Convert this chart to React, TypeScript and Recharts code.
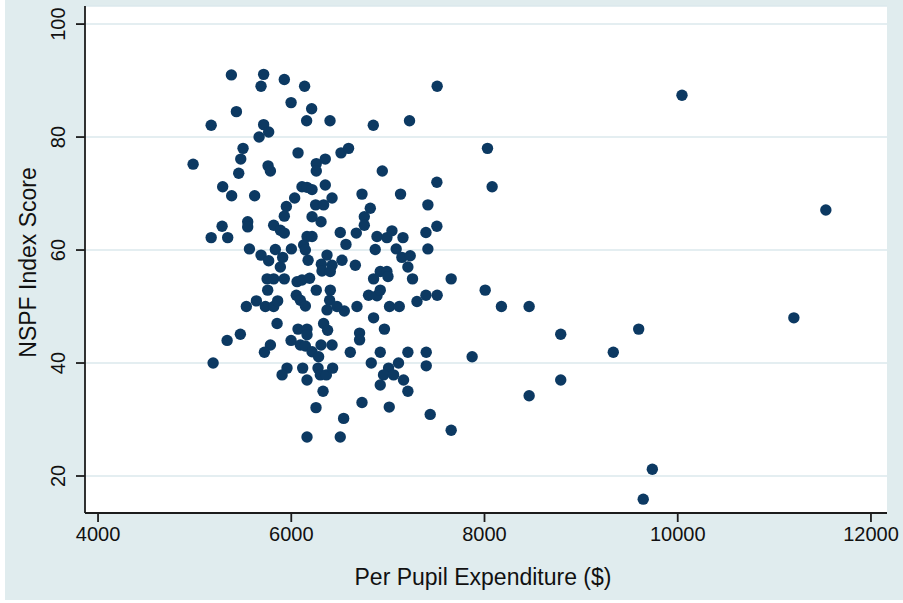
import React from 'react';
import { ScatterChart, Scatter, XAxis, YAxis, CartesianGrid } from 'recharts';

// per pupil expenditure ($) and NSPF index score, one entry per school
const expenditure = [
  5380, 5714, 5687, 5928, 6138, 5998, 5432, 6211, 6159, 6401, 5171, 5714, 5766, 5667, 6849, 7510, 7224,
  5501, 5477, 5456, 4984, 5760, 5784, 6070, 6259, 6352, 6259, 6515, 6593, 5290, 5383, 5621, 6111, 6163,
  6215, 6352, 6035, 5949, 6422, 6252, 6335, 6732, 6818, 8031, 6942, 7507, 8079, 7131, 7414,
  5928, 6215, 6308, 6756, 5284, 5549, 5549, 5818, 5887, 5928, 5171, 5342, 5567, 5687, 5766, 5835, 5911,
  5887, 6001, 6163, 6215, 6128, 6146, 6174, 6507, 6566, 6673, 6756, 7507, 7394, 6887, 6990, 7042, 7156,
  6869, 7086, 7145, 7231, 7207, 7414, 6525, 6663, 6852, 6921, 6990, 7001, 7255, 7655, 8007, 6800, 6887,
  6921, 7301, 7394, 7510, 8175, 8462, 6549, 6680, 7017, 7118, 6852, 6964, 6707, 6707, 6311, 6370, 6422,
  6318, 6404, 5750, 5818, 5928, 5756, 6060, 6111, 6190, 6259, 6404, 6052, 6094, 6146, 5535, 5639, 5732,
  5818, 5859, 6397, 6370, 6473,
  5853, 6070, 6163, 6163, 6335, 6376, 5336, 5473, 5784, 5722, 5998, 6094, 6146, 6215, 6283, 6308, 6422,
  6611, 6921, 7207, 7397, 7872, 6828, 7007, 6955, 7059, 7110, 7162, 7397, 6921, 7207, 6732, 7014, 7438,
  7655, 8462, 6542, 6507, 5191, 5956, 5905, 6118, 6277, 6301, 6363, 6428, 6163, 6329, 6256, 6163,
  10044, 11533, 8789, 9596, 9333, 11202, 8789, 9737, 9643,
];

const nspfScore = [
  91.0, 91.1, 89.0, 90.2, 89.0, 86.1, 84.5, 85.0, 82.9, 82.9, 82.1, 82.2, 80.9, 80.0, 82.1, 89.0, 82.9,
  78.0, 76.1, 73.6, 75.2, 74.9, 74.0, 77.2, 75.3, 76.1, 74.0, 77.2, 78.0, 71.2, 69.6, 69.6, 71.2, 71.1,
  70.7, 71.5, 69.2, 67.7, 69.2, 68.0, 68.0, 69.9, 67.4, 78.0, 74.0, 72.0, 71.2, 69.9, 68.0,
  66.0, 65.9, 65.0, 65.9, 64.2, 65.0, 64.1, 64.4, 63.5, 63.0, 62.2, 62.2, 60.2, 59.1, 58.1, 60.1, 58.7,
  57.0, 60.2, 62.4, 62.4, 60.9, 60.0, 58.2, 63.1, 61.0, 63.0, 64.4, 64.2, 63.1, 62.4, 62.2, 63.4, 62.2,
  60.1, 60.2, 58.7, 59.0, 57.0, 60.2, 58.2, 57.3, 54.9, 56.2, 56.2, 55.3, 54.9, 54.9, 52.9, 52.0, 51.9,
  52.9, 50.9, 52.0, 52.0, 50.0, 50.0, 49.2, 50.0, 50.0, 50.0, 48.0, 46.0, 45.3, 44.1, 57.5, 59.1, 57.3,
  56.3, 56.2, 54.9, 54.9, 54.9, 52.9, 54.4, 54.7, 55.0, 52.9, 52.9, 52.0, 51.1, 50.1, 50.0, 51.0, 50.0,
  50.0, 51.0, 51.1, 49.4, 50.0,
  47.0, 46.0, 46.0, 45.0, 47.0, 45.8, 44.0, 45.1, 43.2, 41.9, 44.0, 43.2, 43.0, 42.0, 41.1, 43.2, 43.2,
  41.9, 41.9, 41.9, 41.9, 41.1, 40.0, 39.1, 37.9, 37.9, 40.0, 37.0, 39.5, 36.1, 35.0, 33.0, 32.2, 30.9,
  28.1, 34.2, 30.2, 26.9, 40.0, 39.1, 37.9, 39.1, 39.1, 37.9, 37.9, 39.1, 37.0, 35.0, 32.1, 26.9,
  87.4, 67.1, 45.1, 46.0, 41.9, 48.0, 37.0, 21.2, 15.9,
];

const xTicks = [4000, 6000, 8000, 10000, 12000];
const yTicks = [20, 40, 60, 80, 100];

const data = expenditure.map((x, i) => ({ x, y: nspfScore[i] }));

const FONT = "Helvetica, 'Liberation Sans', Arial, sans-serif";
const NAVY = '#0c3962';

const XTick = (props: any) => (
  <text x={props.x} y={props.y} dy={17} textAnchor="middle" fontSize={20} fontFamily={FONT} fill="#111">
    {props.payload.value}
  </text>
);

const YTick = (props: any) => {
  const x = props.x - 9;
  return (
    <text
      x={x}
      y={props.y}
      textAnchor="middle"
      fontSize={20}
      fontFamily={FONT}
      fill="#111"
      transform={`rotate(-90 ${x} ${props.y})`}
    >
      {props.payload.value}
    </text>
  );
};

const YTitle = (props: any) => {
  const cx = 36;
  const cy = props.viewBox.y + props.viewBox.height / 2 + 3;
  return (
    <text x={cx} y={cy} textAnchor="middle" fontSize={23} fontFamily={FONT} fill="#111" transform={`rotate(-90 ${cx} ${cy})`}>
      NSPF Index Score
    </text>
  );
};

const XTitle = (props: any) => {
  const cx = props.viewBox.x + props.viewBox.width / 2 - 3;
  return (
    <text x={cx} y={585} textAnchor="middle" fontSize={23} fontFamily={FONT} fill="#111">
      Per Pupil Expenditure ($)
    </text>
  );
};

export default function App() {
  return (
    <div style={{ position: 'absolute', left: 0, top: 0, width: 903, height: 603, background: '#fff' }}>
      <div style={{ position: 'absolute', left: 5, top: 0, width: 898, height: 600, background: '#e0ecee' }} />
      <div style={{ position: 'absolute', left: 0, top: 0 }}>
        <ScatterChart width={903} height={603} margin={{ top: 6, right: 16, left: 0, bottom: 0 }}>
          <CartesianGrid vertical={false} stroke="#dbe9ec" strokeWidth={1.5} fill="#ffffff" fillOpacity={1} />
          <XAxis
            type="number"
            dataKey="x"
            domain={[3865, 12166]}
            ticks={xTicks}
            allowDataOverflow
            height={90}
            tickSize={9}
            tickMargin={2}
            tick={<XTick />}
            axisLine={{ stroke: '#1c1c1c', strokeWidth: 1.8 }}
            tickLine={{ stroke: '#1c1c1c', strokeWidth: 1.8 }}
            label={<XTitle />}
          />
          <YAxis
            type="number"
            dataKey="y"
            domain={[13.45, 103.2]}
            ticks={yTicks}
            allowDataOverflow
            width={85}
            tickSize={9}
            tickMargin={2}
            tick={<YTick />}
            axisLine={{ stroke: '#1c1c1c', strokeWidth: 1.8 }}
            tickLine={{ stroke: '#1c1c1c', strokeWidth: 1.8 }}
            label={<YTitle />}
          />
          <Scatter
            data={data}
            isAnimationActive={false}
            shape={(p: any) => <circle cx={p.cx} cy={p.cy} r={5.7} fill={NAVY} />}
          />
        </ScatterChart>
      </div>
    </div>
  );
}
